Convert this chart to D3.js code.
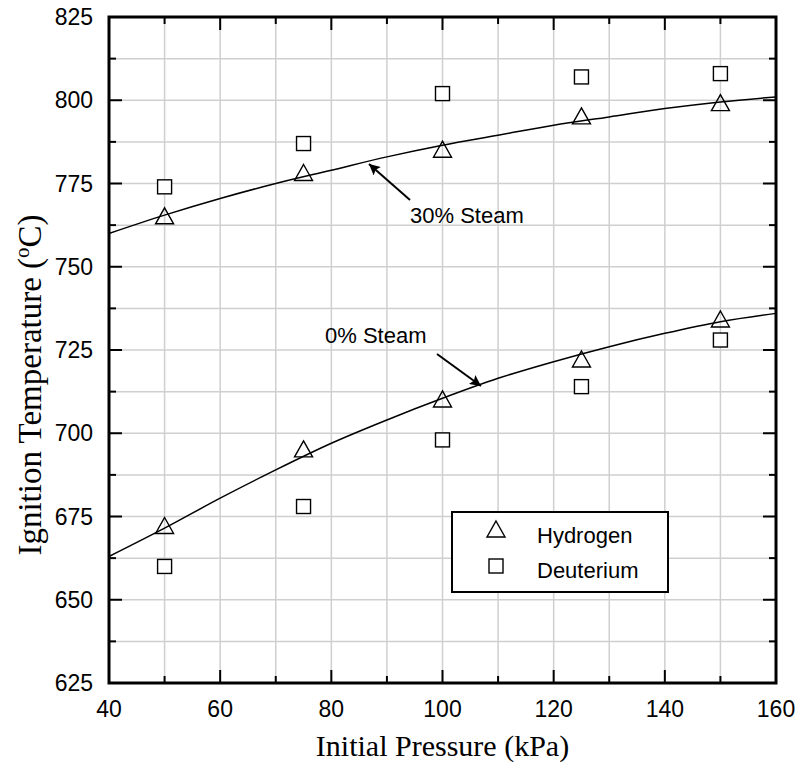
<!DOCTYPE html>
<html>
<head>
<meta charset="utf-8">
<script src="https://cdn.jsdelivr.net/npm/d3@7"></script>
<style>
  body { margin: 0; background: #fff; }
  svg { display: block; }
  .tick-label { font-family: "Liberation Sans", Arial, sans-serif; font-size: 23px; fill: #000; }
  .axis-title { font-family: "Liberation Serif", "Times New Roman", serif; font-size: 30px; fill: #000; }
  .note { font-family: "Liberation Sans", Arial, sans-serif; font-size: 22px; fill: #000; }
</style>
</head>
<body>
<svg id="chart" width="800" height="765"></svg>
<script>
// pressures (kPa) where measurements were taken
const pressures = [50, 75, 100, 125, 150];

// hydrogen (triangles)
const h2Steam30 = [765, 778, 785, 795, 799];
const h2Steam0 = [672, 695, 710, 722, 734];
// deuterium (squares)
const d2Steam30 = [774, 787, 802, 807, 808];
const d2Steam0 = [660, 678, 698, 714, 728];

// fitted curves
const fitX = [40, 50, 60, 70, 80, 90, 100, 110, 120, 130, 140, 150, 160];
const fitSteam30 = [760, 765.5, 770.5, 775, 779, 783, 786.5, 789.5, 792.5, 795, 797.5, 799.5, 801];
const fitSteam0 = [663, 671.5, 680.5, 689, 697, 704, 710.5, 716.5, 721.5, 726, 730, 733.5, 736];

const xTicks = [40, 60, 80, 100, 120, 140, 160];
const yTicks = [625, 650, 675, 700, 725, 750, 775, 800, 825];

const margin = {top: 17, right: 24, bottom: 82, left: 109};
const width = 800 - margin.left - margin.right;
const height = 765 - margin.top - margin.bottom;

const svg = d3.select("#chart");
const g = svg.append("g")
    .attr("transform", `translate(${margin.left},${margin.top})`);

const x = d3.scaleLinear().domain([40, 160]).range([0, width]);
const y = d3.scaleLinear().domain([625, 825]).range([height, 0]);

const xMinor = d3.range(40, 160.1, 10);
const yMinor = d3.range(625, 825.1, 12.5);

// grid
g.append("g").selectAll("line")
    .data(xMinor.slice(1, -1))
    .join("line")
    .attr("x1", d => x(d)).attr("x2", d => x(d))
    .attr("y1", 0).attr("y2", height)
    .attr("stroke", "#cfcfcf").attr("stroke-width", 1.5);
g.append("g").selectAll("line")
    .data(yMinor.slice(1, -1))
    .join("line")
    .attr("y1", d => y(d)).attr("y2", d => y(d))
    .attr("x1", 0).attr("x2", width)
    .attr("stroke", "#cfcfcf").attr("stroke-width", 1.5);

// fitted curves
const line = d3.line()
    .x(d => x(d[0]))
    .y(d => y(d[1]))
    .curve(d3.curveMonotoneX);

[fitSteam30, fitSteam0].forEach(vals => {
    g.append("path")
        .datum(fitX.map((v, i) => [v, vals[i]]))
        .attr("d", line)
        .attr("fill", "none")
        .attr("stroke", "#000")
        .attr("stroke-width", 1.5);
});

// markers
const triPath = "M0,-9L9,7L-9,7Z";
const sqSize = 14;

function drawTriangles(vals) {
    g.append("g").selectAll("path")
        .data(pressures.map((p, i) => [p, vals[i]]))
        .join("path")
        .attr("d", triPath)
        .attr("transform", d => `translate(${x(d[0])},${y(d[1])})`)
        .attr("fill", "none")
        .attr("stroke", "#000").attr("stroke-width", 1.4);
}
function drawSquares(vals) {
    g.append("g").selectAll("rect")
        .data(pressures.map((p, i) => [p, vals[i]]))
        .join("rect")
        .attr("x", d => x(d[0]) - sqSize / 2)
        .attr("y", d => y(d[1]) - sqSize / 2)
        .attr("width", sqSize).attr("height", sqSize)
        .attr("fill", "white")
        .attr("stroke", "#000").attr("stroke-width", 1.4);
}
drawSquares(d2Steam30);
drawSquares(d2Steam0);
drawTriangles(h2Steam30);
drawTriangles(h2Steam0);

// arrows + notes
svg.append("defs").append("marker")
    .attr("id", "arrow")
    .attr("viewBox", "0 0 10 10")
    .attr("refX", 10).attr("refY", 5)
    .attr("markerWidth", 20).attr("markerHeight", 11)
    .attr("markerUnits", "userSpaceOnUse")
    .attr("orient", "auto")
    .append("path")
    .attr("d", "M0,0L10,5L0,10L2,5Z")
    .attr("fill", "#000");

const notes = [
    {text: "30% Steam", tx: 410, ty: 223, x1: 410, y1: 200, x2: 369, y2: 164},
    {text: "0% Steam", tx: 325, ty: 343, x1: 437, y1: 354, x2: 481, y2: 386}
];
notes.forEach(n => {
    svg.append("line")
        .attr("x1", n.x1).attr("y1", n.y1)
        .attr("x2", n.x2).attr("y2", n.y2)
        .attr("stroke", "#000").attr("stroke-width", 2)
        .attr("marker-end", "url(#arrow)");
    svg.append("text")
        .attr("class", "note")
        .attr("x", n.tx).attr("y", n.ty)
        .text(n.text);
});

// legend
const legend = svg.append("g").attr("transform", "translate(452,512)");
legend.append("rect")
    .attr("width", 216).attr("height", 80)
    .attr("fill", "white")
    .attr("stroke", "#000").attr("stroke-width", 2);
legend.append("path")
    .attr("d", triPath)
    .attr("transform", "translate(44,18)")
    .attr("fill", "none").attr("stroke", "#000").attr("stroke-width", 1.4);
legend.append("rect")
    .attr("x", 44 - sqSize / 2).attr("y", 54 - sqSize / 2)
    .attr("width", sqSize).attr("height", sqSize)
    .attr("fill", "none").attr("stroke", "#000").attr("stroke-width", 1.4);
legend.append("text").attr("class", "note")
    .attr("x", 85).attr("y", 31).text("Hydrogen");
legend.append("text").attr("class", "note")
    .attr("x", 85).attr("y", 66).text("Deuterium");

// frame
g.append("rect")
    .attr("width", width).attr("height", height)
    .attr("fill", "none")
    .attr("stroke", "#000").attr("stroke-width", 3);

// ticks, inward on all four sides
const majLen = 13, minLen = 7;
const tk = g.append("g").attr("stroke", "#000").attr("stroke-width", 2);
xMinor.forEach(v => {
    const len = xTicks.includes(v) ? majLen : minLen;
    tk.append("line").attr("x1", x(v)).attr("x2", x(v)).attr("y1", height).attr("y2", height - len);
    tk.append("line").attr("x1", x(v)).attr("x2", x(v)).attr("y1", 0).attr("y2", len);
});
yMinor.forEach(v => {
    const len = yTicks.includes(v) ? majLen : minLen;
    tk.append("line").attr("y1", y(v)).attr("y2", y(v)).attr("x1", 0).attr("x2", len);
    tk.append("line").attr("y1", y(v)).attr("y2", y(v)).attr("x1", width).attr("x2", width - len);
});

// tick labels
g.append("g").selectAll("text")
    .data(xTicks)
    .join("text")
    .attr("class", "tick-label")
    .attr("x", d => x(d))
    .attr("y", height + 34)
    .attr("text-anchor", "middle")
    .text(d => d);
g.append("g").selectAll("text")
    .data(yTicks)
    .join("text")
    .attr("class", "tick-label")
    .attr("x", -16)
    .attr("y", d => y(d) + 8)
    .attr("text-anchor", "end")
    .text(d => d);

// axis titles
svg.append("text")
    .attr("class", "axis-title")
    .attr("x", margin.left + width / 2)
    .attr("y", 756)
    .attr("text-anchor", "middle")
    .text("Initial Pressure (kPa)");

const yt = svg.append("text")
    .attr("class", "axis-title")
    .attr("font-size", 33)
    .style("font-size", "33px")
    .attr("transform", "translate(41,385) rotate(-90)")
    .attr("text-anchor", "middle");
yt.append("tspan").text("Ignition Temperature (");
yt.append("tspan").attr("dy", -12).style("font-size", "21px").text("o");
yt.append("tspan").attr("dy", 12).text("C)");
</script>
</body>
</html>
